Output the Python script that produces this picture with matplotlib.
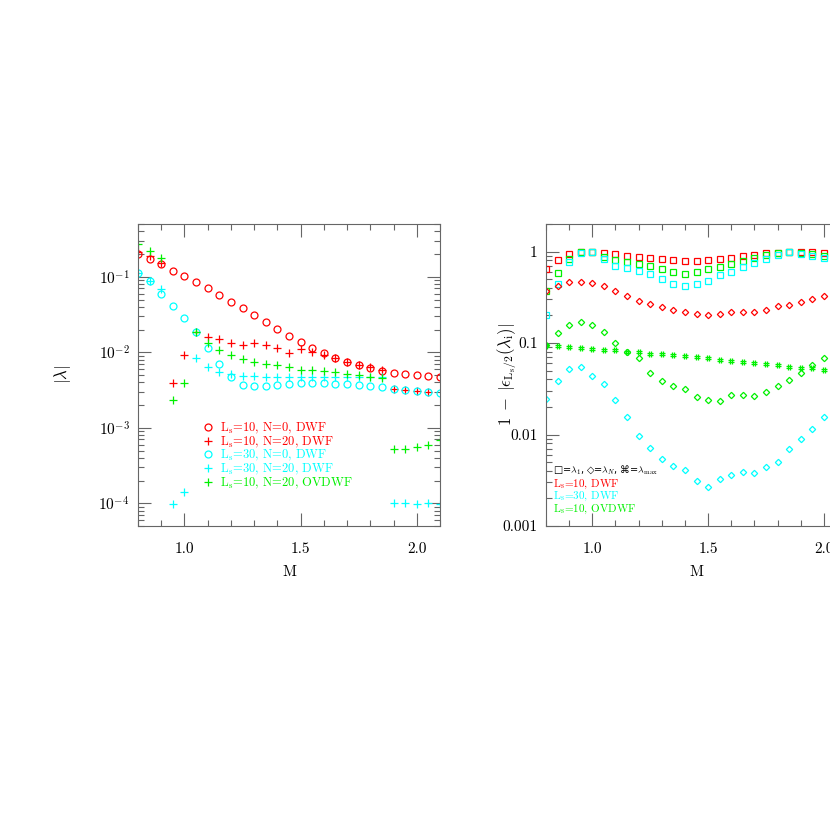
import matplotlib
matplotlib.use('Agg')
import matplotlib.pyplot as plt
from matplotlib.path import Path
from matplotlib.ticker import MultipleLocator, LogLocator, NullFormatter, FuncFormatter

plt.rcParams['font.family'] = 'serif'
plt.rcParams['font.serif'] = ['cmr10']
plt.rcParams['mathtext.fontset'] = 'cm'
plt.rcParams['axes.formatter.use_mathtext'] = True
plt.rcParams['axes.unicode_minus'] = False

RED = '#ff0000'
CYAN = '#00ffff'
GREEN = '#00f000'

# ---- left panel: |lambda| vs M ----
M = [0.80, 0.85, 0.90, 0.95, 1.00, 1.05, 1.10, 1.15, 1.20, 1.25, 1.30, 1.35, 1.40,
     1.45, 1.50, 1.55, 1.60, 1.65, 1.70, 1.75, 1.80, 1.85, 1.90, 1.95, 2.00, 2.05, 2.10]

ls10_n0 = [0.198, 0.170, 0.146, 0.121, 0.102, 0.085, 0.070, 0.0575, 0.0469, 0.0386, 0.0311,
           0.0251, 0.0203, 0.0165, 0.0136, 0.0114, 0.0097, 0.0085, 0.0075, 0.0068, 0.0062,
           0.0057, 0.0053, 0.0051, 0.0050, 0.0048, 0.0047]
ls10_n20 = [0.21, 0.19, 0.15, 0.0039, 0.0091, 0.0187, 0.0160, 0.0152, 0.0134, 0.0124, 0.0134,
            0.0124, 0.0115, 0.0099, 0.0110, 0.0100, 0.0091, 0.0085, 0.0075, 0.0068, 0.0063,
            0.0058, 0.0033, 0.0032, 0.0031, 0.0030]
ls30_n0 = [0.113, 0.087, 0.059, 0.041, 0.0284, 0.0187, 0.0114, 0.0071, 0.0047, 0.0037, 0.0036,
           0.0036, 0.0037, 0.0038, 0.0039, 0.0039, 0.0039, 0.0038, 0.0038, 0.0037, 0.0036,
           0.0035, 0.0033, 0.0032, 0.0031, 0.0030, 0.0029]
ls30_n20 = [0.113, 0.089, 0.068, 9.9e-5, 1.39e-4, 0.0085, 0.0064, 0.0055, 0.0051, 0.0049, 0.0048,
            0.0047, 0.0047, 0.0047, 0.0047, 0.0047, 0.0047, 0.0047, 0.0047, 0.0047, 0.0047,
            0.0047, 1.0e-4, 1.0e-4, 9.8e-5, 1.0e-4, 9.8e-5]
ov10_n20 = [0.27, 0.22, 0.177, 0.0023, 0.0039, 0.0187, 0.0131, 0.0106, 0.0091, 0.0081, 0.0075,
            0.0071, 0.0067, 0.0063, 0.0059, 0.0058, 0.0056, 0.0054, 0.0052, 0.0050, 0.0047,
            0.0045, 0.00052, 0.00053, 0.00055, 0.00059, 0.00068]

# ---- right panel: 1 - |eps(lambda_i)| vs M ----
M2 = [0.80, 0.85, 0.90, 0.95, 1.00, 1.05, 1.10, 1.15, 1.20, 1.25, 1.30, 1.35, 1.40,
      1.45, 1.50, 1.55, 1.60, 1.65, 1.70, 1.75, 1.80, 1.85, 1.90, 1.95, 2.00]

dwf10_l1 = [0.65, 0.80, 0.94, 0.99, 0.99, 0.97, 0.93, 0.89, 0.87, 0.84, 0.82, 0.80, 0.78,
            0.79, 0.81, 0.83, 0.86, 0.89, 0.92, 0.96, 0.97, 0.99, 0.98, 0.99, 0.97]
ov10_l1 = [0.37, 0.59, 0.83, 0.98, 0.99, 0.88, 0.80, 0.76, 0.735, 0.70, 0.65, 0.605, 0.575,
           0.605, 0.64, 0.68, 0.73, 0.78, 0.85, 0.91, 0.97, 1.00, 0.97, 0.94, 0.90]
dwf30_l1 = [0.204, 0.44, 0.77, 0.97, 0.99, 0.82, 0.70, 0.655, 0.62, 0.57, 0.505, 0.44, 0.42,
            0.44, 0.48, 0.55, 0.605, 0.68, 0.75, 0.83, 0.92, 0.98, 0.95, 0.89, 0.86]
dwf10_ln = [0.37, 0.425, 0.46, 0.465, 0.45, 0.42, 0.37, 0.33, 0.29, 0.267, 0.245, 0.23, 0.22,
            0.21, 0.20, 0.21, 0.216, 0.22, 0.22, 0.23, 0.255, 0.26, 0.28, 0.305, 0.33]
ov10_ln = [0.095, 0.128, 0.158, 0.17, 0.158, 0.132, 0.100, 0.080, 0.068, 0.047, 0.038, 0.034,
           0.0318, 0.026, 0.0239, 0.0233, 0.0267, 0.027, 0.0264, 0.029, 0.034, 0.0395, 0.0476,
           0.058, 0.068]
ov10_lmax = [0.092, 0.092, 0.090, 0.088, 0.086, 0.084, 0.083, 0.080, 0.079, 0.076, 0.075, 0.074,
             0.0725, 0.0695, 0.068, 0.066, 0.064, 0.0625, 0.061, 0.0585, 0.057, 0.055, 0.054,
             0.0528, 0.0507]
dwf30_ln = [0.0243, 0.0389, 0.0518, 0.0553, 0.0438, 0.0358, 0.0239, 0.0155, 0.0097, 0.0071,
            0.0054, 0.0045, 0.0041, 0.0031, 0.0027, 0.0033, 0.0036, 0.0039, 0.0038, 0.0044,
            0.0050, 0.0070, 0.0089, 0.0115, 0.0155]

# hash-like marker for lambda_max
hash_marker = Path([(-1, -0.4), (1, -0.4), (-1, 0.4), (1, 0.4),
                    (-0.4, -1), (-0.4, 1), (0.4, -1), (0.4, 1)],
                   [Path.MOVETO, Path.LINETO] * 4)

fig = plt.figure(figsize=(8.3, 8.3), dpi=100)
ax1 = fig.add_axes([138/830, 1-526/830, 302/830, 302/830])
ax2 = fig.add_axes([546/830, 1-526/830, 301/830, 302/830])


def pts(ax, x, y, m, c, ms, lab=None):
    return ax.plot(x[:len(y)], y, ls='none', marker=m, mfc='none', mec=c, ms=ms,
                   mew=0.9, label=lab)[0]


h1 = pts(ax1, M, ls10_n0, 'o', RED, 5, 'L$_\\mathrm{s}$=10, N=0, DWF')
h2 = pts(ax1, M, ls10_n20, '+', RED, 6, 'L$_\\mathrm{s}$=10, N=20, DWF')
h3 = pts(ax1, M, ls30_n0, 'o', CYAN, 5, 'L$_\\mathrm{s}$=30, N=0, DWF')
h4 = pts(ax1, M, ls30_n20, '+', CYAN, 6, 'L$_\\mathrm{s}$=30, N=20, DWF')
h5 = pts(ax1, M, ov10_n20, '+', GREEN, 6, 'L$_\\mathrm{s}$=10, N=20, OVDWF')

pts(ax2, M2, dwf10_l1, 's', RED, 4.5)
pts(ax2, M2, ov10_l1, 's', GREEN, 4.5)
pts(ax2, M2, dwf30_l1, 's', CYAN, 4.5)
pts(ax2, M2, dwf10_ln, 'D', RED, 3.2)
pts(ax2, M2, ov10_ln, 'D', GREEN, 3.2)
pts(ax2, M2, dwf30_ln, 'D', CYAN, 3.2)
pts(ax2, M2, ov10_lmax, hash_marker, GREEN, 4.5)

for ax in (ax1, ax2):
    ax.set_yscale('log')
    ax.set_xlim(0.8, 2.1)
    ax.xaxis.set_major_locator(MultipleLocator(0.5))
    ax.xaxis.set_minor_locator(MultipleLocator(0.1))
    ax.xaxis.set_major_formatter(FuncFormatter(lambda v, p: '%.1f' % v))
    ax.yaxis.set_minor_locator(LogLocator(base=10, subs=range(2, 10), numticks=20))
    ax.yaxis.set_minor_formatter(NullFormatter())
    ax.tick_params(which='both', direction='in', top=True, right=True,
                   color='0.4', width=0.8, labelsize=11)
    ax.tick_params(which='major', length=9.5)
    ax.tick_params(which='minor', length=4.5)
    ax.tick_params(axis='x', pad=12)
    ax.tick_params(axis='y', pad=6)
    for s in ax.spines.values():
        s.set_color('0.4')
        s.set_linewidth(0.8)
    ax.set_xlabel('M', fontsize=11)
    ax.xaxis.set_label_coords(0.5, -0.13)

ax1.set_ylim(5e-5, 0.5)
ax1.yaxis.set_major_locator(LogLocator(base=10, numticks=20))
ax1.set_ylabel('$|\\lambda|$', fontsize=12)
ax1.yaxis.set_label_coords(-0.215, 0.5)

ax2.set_ylim(0.001, 2)
ax2.yaxis.set_major_locator(LogLocator(base=10, numticks=20))
ax2.yaxis.set_major_formatter(FuncFormatter(lambda v, p: '%g' % v))
ax2.set_ylabel('$1\\;-\\;|\\epsilon_{\\mathrm{L_s/2}}(\\lambda_{\\mathrm{i}})|$', fontsize=12)
ax2.yaxis.set_label_coords(-0.09, 0.5)

ax1.legend(handles=[h1, h2, h3, h4, h5], loc='upper left', bbox_to_anchor=(0.21, 0.348),
           frameon=False, fontsize=9, handlelength=1.0, handletextpad=0.5,
           labelspacing=-0.12, borderpad=0, borderaxespad=0, labelcolor='markeredgecolor')

ax2.text(0.023, 0.185, '□=$\\lambda_1$, ◇=$\\lambda_N$, ⌘=$\\lambda_{\\mathrm{max}}$',
         transform=ax2.transAxes, va='center', fontsize=7, color='black',
         family=['DejaVu Sans'])
ax2.text(0.023, 0.138, 'L$_\\mathrm{s}$=10, DWF', transform=ax2.transAxes, va='center',
         fontsize=8, color=RED)
ax2.text(0.023, 0.097, 'L$_\\mathrm{s}$=30, DWF', transform=ax2.transAxes, va='center',
         fontsize=8, color=CYAN)
ax2.text(0.023, 0.055, 'L$_\\mathrm{s}$=10, OVDWF', transform=ax2.transAxes, va='center',
         fontsize=8, color=GREEN)

fig.savefig('out.png', dpi=100)
